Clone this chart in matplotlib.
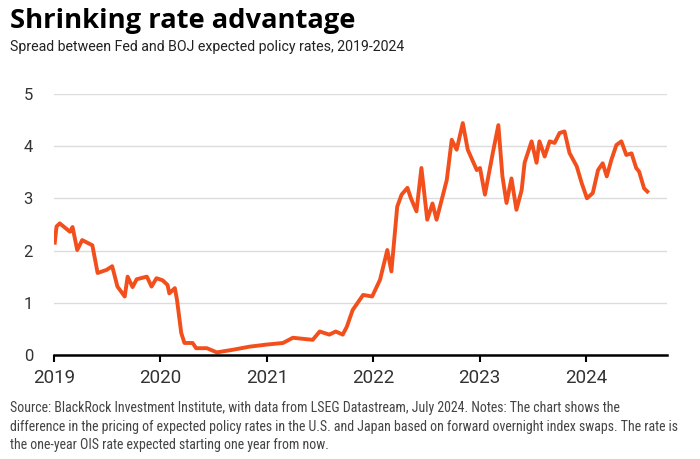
import matplotlib
matplotlib.use("Agg")
import matplotlib.pyplot as plt
import matplotlib.dates as mdates
from matplotlib import font_manager
import pandas as pd

# spread (percentage points)
dates = ["2019-01-04", "2019-01-10", "2019-01-21", "2019-02-25", "2019-03-06", "2019-03-22",
         "2019-04-08", "2019-05-13", "2019-05-31", "2019-07-01", "2019-07-20", "2019-08-07",
         "2019-09-01", "2019-09-11", "2019-09-28", "2019-10-12", "2019-11-16", "2019-12-02",
         "2019-12-19", "2020-01-09", "2020-01-26", "2020-02-01", "2020-02-20", "2020-02-27",
         "2020-03-13", "2020-03-24", "2020-04-21", "2020-05-03", "2020-06-09", "2020-07-13",
         "2020-09-06", "2020-11-03", "2021-01-01", "2021-02-25", "2021-03-31", "2021-06-07",
         "2021-07-01", "2021-08-03", "2021-08-25", "2021-09-18", "2021-10-02", "2021-10-22",
         "2021-11-27", "2021-12-28", "2022-01-24", "2022-02-18", "2022-03-04", "2022-03-24",
         "2022-04-08", "2022-04-28", "2022-05-10", "2022-05-29", "2022-06-15", "2022-07-05",
         "2022-07-23", "2022-08-06", "2022-09-10", "2022-09-27", "2022-10-14", "2022-11-04",
         "2022-11-21", "2022-12-22", "2023-01-02", "2023-01-19", "2023-02-15", "2023-03-06",
         "2023-03-20", "2023-04-03", "2023-04-20", "2023-05-07", "2023-05-25", "2023-06-04",
         "2023-06-28", "2023-07-15", "2023-07-25", "2023-08-12", "2023-08-29", "2023-09-15",
         "2023-10-02", "2023-10-19", "2023-11-05", "2023-11-30", "2023-12-17", "2024-01-04",
         "2024-01-24", "2024-02-11", "2024-02-27", "2024-03-12", "2024-03-28", "2024-04-14",
         "2024-05-01", "2024-05-18", "2024-06-05", "2024-06-21", "2024-07-01", "2024-07-18",
         "2024-07-29"]
spread = [2.15, 2.46, 2.52, 2.36, 2.45, 2.01,
          2.20, 2.10, 1.57, 1.63, 1.70, 1.31,
          1.12, 1.50, 1.30, 1.45, 1.50, 1.31,
          1.47, 1.43, 1.34, 1.18, 1.28, 1.07,
          0.42, 0.23, 0.23, 0.13, 0.13, 0.05,
          0.10, 0.16, 0.20, 0.23, 0.33, 0.29,
          0.45, 0.39, 0.45, 0.39, 0.54, 0.86,
          1.15, 1.12, 1.44, 2.01, 1.60, 2.84,
          3.07, 3.20, 3.00, 2.75, 3.58, 2.59,
          2.90, 2.59, 3.35, 4.12, 3.93, 4.44,
          3.93, 3.54, 3.58, 3.07, 3.87, 4.40,
          3.42, 2.91, 3.38, 2.78, 3.16, 3.68,
          4.09, 3.68, 4.09, 3.80, 4.09, 4.06,
          4.25, 4.28, 3.87, 3.61, 3.29, 3.00,
          3.10, 3.54, 3.67, 3.42, 3.74, 4.02,
          4.09, 3.83, 3.86, 3.58, 3.51, 3.19,
          3.13]
yticks = [0, 1, 2, 3, 4, 5]

x = pd.to_datetime(dates)

# narrow font for the footnote if one is around
installed = set(f.name for f in font_manager.fontManager.ttflist)
narrow = "Lato"
for name in ["Liberation Sans Narrow", "DejaVu Sans Condensed", "Roboto Condensed"]:
    if name in installed:
        narrow = name
        break

fig = plt.figure(figsize=(7, 4.59), dpi=100)
ax = fig.add_axes([0.077, 0.2266, 0.876, 0.569])

ax.plot(x, spread, color="#f24f1c", linewidth=2.8, solid_joinstyle="round")

ax.set_ylim(0, 5)
ax.set_yticks(yticks)
ax.set_xlim(pd.Timestamp("2019-01-01"), pd.Timestamp("2024-10-05"))
ax.xaxis.set_major_locator(mdates.YearLocator())
ax.xaxis.set_major_formatter(mdates.DateFormatter("%Y"))

ax.grid(axis="y", color="#dcdcdc", linewidth=1)
ax.set_axisbelow(True)
for s in ["top", "right", "left"]:
    ax.spines[s].set_visible(False)
ax.spines["bottom"].set_linewidth(1.8)
ax.spines["bottom"].set_color("black")
ax.tick_params(axis="y", length=0, pad=15, labelsize=12, labelcolor="#333333")
ax.tick_params(axis="x", length=5, width=1.5, color="black", pad=5,
               labelsize=13.5, labelcolor="#333333")
for lab in ax.get_yticklabels() + ax.get_xticklabels():
    lab.set_family("Roboto")

fig.text(0.014, 0.955, "Shrinking rate advantage", fontsize=19.7, fontweight="bold",
         family="Open Sans", va="center", ha="left")
fig.text(0.014, 0.898, "Spread between Fed and BOJ expected policy rates, 2019-2024",
         fontsize=10.2, family="Roboto", color="#222222", va="center", ha="left")

note = ("Source: BlackRock Investment Institute, with data from LSEG Datastream, July 2024. Notes: The chart shows the\n"
        "difference in the pricing of expected policy rates in the U.S. and Japan based on forward overnight index swaps. The rate is\n"
        "the one-year OIS rate expected starting one year from now.")
fig.text(0.014, 0.126, note, fontsize=10.0, family=[narrow, "DejaVu Sans"],
         color="#444444", va="top", ha="left", linespacing=1.4)

fig.savefig("out.png", dpi=100)
